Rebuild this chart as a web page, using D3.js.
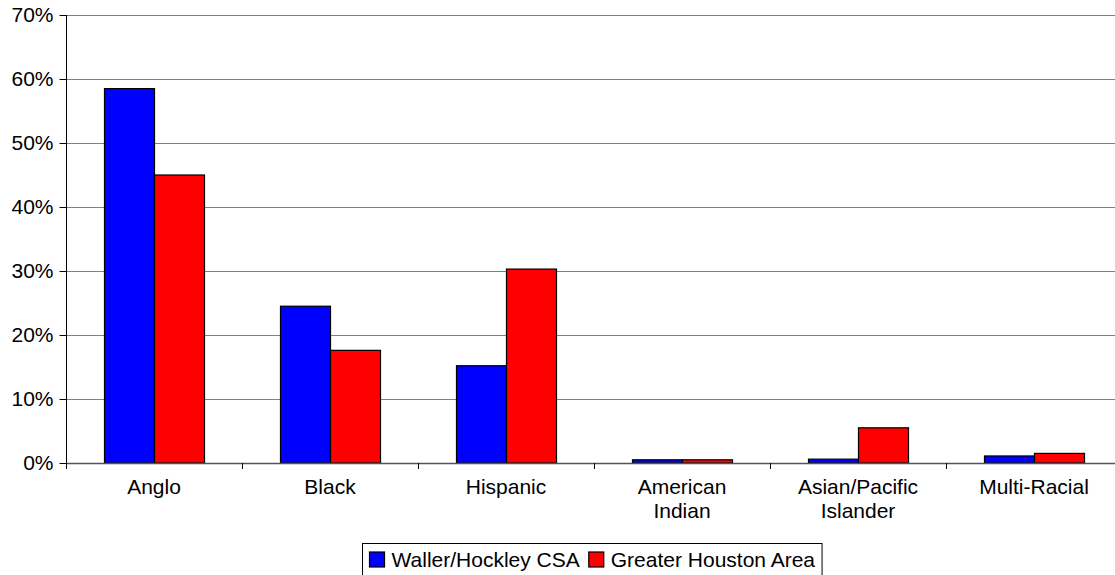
<!DOCTYPE html>
<html>
<head>
<meta charset="utf-8">
<script src="https://cdn.jsdelivr.net/npm/d3@7"></script>
<style>
  html, body { margin: 0; padding: 0; background: #fff; }
  svg { display: block; }
  text { font-family: "Liberation Sans", Arial, sans-serif; fill: #000; }
</style>
</head>
<body>
<svg id="chart" width="1115" height="575"></svg>
<script>
const categories = ["Anglo", "Black", "Hispanic", "American Indian", "Asian/Pacific Islander", "Multi-Racial"];
const categoryLines = [["Anglo"], ["Black"], ["Hispanic"], ["American", "Indian"], ["Asian/Pacific", "Islander"], ["Multi-Racial"]];
const seriesNames = ["Waller/Hockley CSA", "Greater Houston Area"];
const seriesColors = ["#0000FF", "#FF0000"];
const wallerValues = [58.5, 24.5, 15.2, 0.5, 0.6, 1.1];
const houstonValues = [45.0, 17.6, 30.3, 0.5, 5.5, 1.5];
const yTicks = [0, 10, 20, 30, 40, 50, 60, 70];

(function() {
const svg = d3.select("#chart");
const fontSize = 21;
const pLeft = 66, pRight = 1122, pTop = 15, pBottom = 463;

const x0 = d3.scaleBand().domain(categories).range([pLeft, pRight]).paddingInner(0).paddingOuter(0);
const x1 = d3.scaleBand().domain(seriesNames).range([0, x0.bandwidth()]).paddingInner(0).paddingOuter(0.76);
const y = d3.scaleLinear().domain([0, 70]).range([pBottom, pTop]);

// gridlines
svg.append("g").selectAll("line").data(yTicks.filter(d => d > 0)).join("line")
  .attr("x1", pLeft).attr("x2", pRight)
  .attr("y1", d => Math.round(y(d)) + 0.5).attr("y2", d => Math.round(y(d)) + 0.5)
  .attr("stroke", "#808080").attr("stroke-width", 1);

// bars
const data = categories.map((c, i) => ({c, vals: [wallerValues[i], houstonValues[i]]}));
const groups = svg.append("g").selectAll("g").data(data).join("g")
  .attr("transform", d => `translate(${x0(d.c)},0)`);
groups.selectAll("rect").data(d => d.vals.map((v, j) => ({v, s: seriesNames[j], j}))).join("rect")
  .attr("x", d => x1(d.s) + 0.5)
  .attr("y", d => y(d.v))
  .attr("width", x1.bandwidth())
  .attr("height", d => y(0) - y(d.v))
  .attr("fill", d => seriesColors[d.j])
  .attr("stroke", "#000").attr("stroke-width", 1.2);

// y axis
const yAxis = d3.axisLeft(y).tickValues(yTicks).tickFormat(d => d + "%").tickSize(7).tickPadding(6);
const gy = svg.append("g").attr("transform", `translate(${pLeft + 0.5},0)`).call(yAxis);
gy.select(".domain").attr("stroke", "#000").attr("d", `M0,${pTop}V${pBottom + 6}`);
gy.selectAll(".tick line").attr("stroke", "#000");
gy.selectAll(".tick text").attr("font-size", fontSize).attr("font-family", "Liberation Sans, Arial, sans-serif").attr("fill", "#000");

// x axis line
svg.append("line").attr("x1", pLeft).attr("x2", pRight)
  .attr("y1", pBottom + 0.5).attr("y2", pBottom + 0.5).attr("stroke", "#555").attr("stroke-width", 1.5);

// x ticks at category boundaries
const bounds = categories.map(c => x0(c)).concat([pRight]);
svg.append("g").selectAll("line").data(bounds).join("line")
  .attr("x1", d => Math.round(d) + 0.5).attr("x2", d => Math.round(d) + 0.5)
  .attr("y1", pBottom).attr("y2", pBottom + 6)
  .attr("stroke", "#000");

// category labels
const lbl = svg.append("g").selectAll("text").data(categories).join("text")
  .attr("x", d => x0(d) + x0.bandwidth() / 2)
  .attr("y", 494)
  .attr("text-anchor", "middle")
  .attr("font-size", fontSize);
lbl.each(function(d, i) {
  const t = d3.select(this);
  categoryLines[i].forEach((line, k) => {
    t.append("tspan").attr("x", x0(d) + x0.bandwidth() / 2).attr("dy", k === 0 ? 0 : 24).text(line);
  });
});

// legend
const legend = svg.append("g");
const legX = 362.5, legY = 543.5;
const items = legend.selectAll("g").data(seriesNames).join("g");
let cursor = legX + 7;
items.each(function(d, i) {
  const g = d3.select(this);
  g.append("rect").attr("x", cursor).attr("y", 552).attr("width", 15).attr("height", 15)
    .attr("fill", seriesColors[i]).attr("stroke", "#000").attr("stroke-width", 1.2);
  const t = g.append("text").attr("x", cursor + 22).attr("y", 567).attr("font-size", fontSize).text(d);
  const w = t.node().getComputedTextLength();
  cursor = cursor + 22 + w + 9;
});
legend.insert("rect", ":first-child").attr("x", legX).attr("y", legY)
  .attr("width", cursor - legX - 2).attr("height", 40)
  .attr("fill", "#fff").attr("stroke", "#000").attr("stroke-width", 1);
})();
</script>
</body>
</html>
